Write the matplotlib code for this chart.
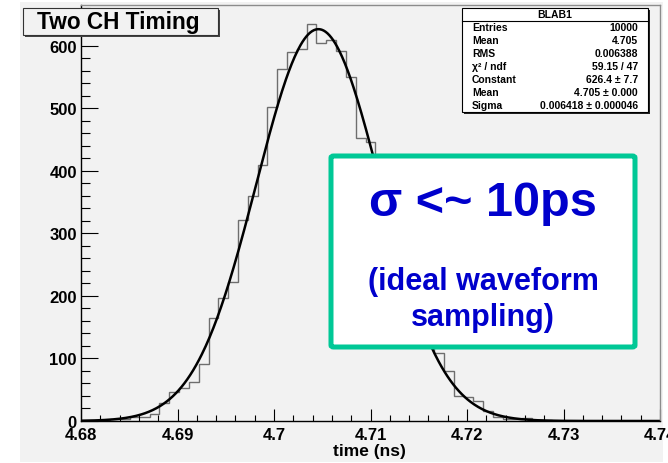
import numpy as np
import matplotlib
matplotlib.use("Agg")
import matplotlib.pyplot as plt
from matplotlib.patches import Rectangle, FancyBboxPatch
from matplotlib.lines import Line2D

plt.rcParams['font.family'] = ['Liberation Sans', 'DejaVu Sans']
plt.rcParams['font.weight'] = 'bold'

# histogram: 60 bins from 4.68 ns
hist_lo = 4.68
hist_hi = 4.741
counts = [1, 1, 2, 3, 3, 6, 7, 11,
          29, 46, 53, 63, 91, 165, 196, 222,
          322, 360, 409, 502, 562, 590, 595, 634,
          604, 609, 592, 550, 453, 446,
          400, 352, 281, 240, 180, 146,
          109, 80, 40, 39, 32, 16, 7,
          3, 3, 4, 1, 1, 0, 0, 0, 0, 0, 0, 0, 0, 0, 0, 0, 0]

# gaussian fit result (stats box shows the rounded values)
fit_const = 626.4
fit_mean = 4.7046
fit_sigma = 0.006418

stat_labels = ['Entries', 'Mean', 'RMS', 'χ² / ndf', 'Constant', 'Mean', 'Sigma']
stat_values = ['10000', '4.705', '0.006388', '59.15 / 47',
               '626.4 ± 7.7', '4.705 ± 0.000', '0.006418 ± 0.000046']

x_ticks = [4.68, 4.69, 4.70, 4.71, 4.72, 4.73, 4.74]
x_tick_labels = ['4.68', '4.69', '4.7', '4.71', '4.72', '4.73', '4.74']
y_ticks = [0, 100, 200, 300, 400, 500, 600]

W, H = 668, 464
BG = '#f2f2f2'


def fx(x):
    return x / W


def fy(y):
    return 1 - y / H


fig = plt.figure(figsize=(W / 100, H / 100), dpi=100)
fig.patch.set_facecolor('white')

# grey ROOT canvas
fig.add_artist(Rectangle((fx(20), fy(463)), fx(663 - 20), (463 - 3) / H,
                         transform=fig.transFigure, facecolor=BG,
                         edgecolor='none', zorder=-1))

ax = fig.add_axes([fx(81), fy(422), fx(660 - 81), (422 - 6) / H])
ax.set_facecolor(BG)

edges = np.linspace(hist_lo, hist_hi, len(counts) + 1)
ax.stairs(counts, edges, color='#6e6e6e', linewidth=1.0, baseline=0)

xs = np.linspace(4.68, 4.74, 600)
ax.plot(xs, fit_const * np.exp(-0.5 * ((xs - fit_mean) / fit_sigma) ** 2),
        color='black', linewidth=1.8)

ax.set_xlim(4.68, 4.74)
ax.set_ylim(0, 665)
ax.set_xticks(x_ticks)
ax.set_xticklabels(x_tick_labels)
ax.set_yticks(y_ticks)
ax.set_xticks(np.arange(4.68, 4.7401, 0.002), minor=True)
ax.set_yticks(np.arange(0, 661, 20), minor=True)
ax.tick_params(axis='y', which='major', direction='in', length=12.2, width=0.8,
               pad=3, labelsize=12)
ax.tick_params(axis='y', which='minor', direction='in', length=6.5, width=0.8)
ax.tick_params(axis='x', which='major', direction='in', length=8.6, width=0.8,
               pad=4, labelsize=12)
ax.tick_params(axis='x', which='minor', direction='in', length=4.3, width=0.8)
for lab in ax.get_xticklabels() + ax.get_yticklabels():
    lab.set_fontweight('bold')

for side in ['left', 'bottom']:
    ax.spines[side].set_color('black')
    ax.spines[side].set_linewidth(1.0)
for side in ['top', 'right']:
    ax.spines[side].set_color('#8c8c8c')
    ax.spines[side].set_linewidth(1.0)

fig.text(fx(333), fy(452), 'time (ns)', fontsize=12.5, fontweight='bold',
         ha='left', va='center')

# title box
fig.add_artist(Rectangle((fx(25), fy(38)), fx(218 - 23), (36 - 9) / H,
                         transform=fig.transFigure, facecolor='#444444',
                         edgecolor='none', zorder=5))
fig.add_artist(Rectangle((fx(23), fy(36)), fx(218 - 23), (36 - 9) / H,
                         transform=fig.transFigure, facecolor=BG,
                         edgecolor='#333333', linewidth=0.8, zorder=6))
fig.text(fx(118), fy(22.5), 'Two CH Timing', fontsize=16.3, fontweight='bold',
         ha='center', va='center', zorder=7)

# stats box
fig.add_artist(Rectangle((fx(464), fy(115)), fx(648 - 462), (113 - 9) / H,
                         transform=fig.transFigure, facecolor='#222222',
                         edgecolor='none', zorder=5))
fig.add_artist(Rectangle((fx(462), fy(113)), fx(648 - 462), (113 - 9) / H,
                         transform=fig.transFigure, facecolor='white',
                         edgecolor='black', linewidth=0.8, zorder=6))
fig.add_artist(Line2D([fx(462), fx(648)], [fy(22), fy(22)],
                      transform=fig.transFigure, color='black',
                      linewidth=0.8, zorder=7))
fig.text(fx(555), fy(15), 'BLAB1', fontsize=7.5, fontweight='bold',
         ha='center', va='center', zorder=7)
for i, (lab, val) in enumerate(zip(stat_labels, stat_values)):
    yy = 28 + 13 * i
    fig.text(fx(472), fy(yy), lab, fontsize=7.5, fontweight='bold',
             ha='left', va='center', zorder=7)
    fig.text(fx(638), fy(yy), val, fontsize=7.5, fontweight='bold',
             ha='right', va='center', zorder=7)

# green annotation box
fig.add_artist(FancyBboxPatch((fx(331), fy(348)), fx(635 - 331), (348 - 157) / H,
                              boxstyle='round,pad=0,rounding_size=0.004',
                              transform=fig.transFigure, facecolor='white',
                              edgecolor='#00c896', linewidth=3.6, zorder=8))
fig.text(fx(483), fy(203), 'σ <~ 10ps', fontsize=35, fontweight='bold',
         color='#0000cc', ha='center', va='center', zorder=9)
fig.text(fx(483), fy(282), '(ideal waveform', fontsize=22, fontweight='bold',
         color='#0000cc', ha='center', va='center', zorder=9)
fig.text(fx(483), fy(318), 'sampling)', fontsize=22, fontweight='bold',
         color='#0000cc', ha='center', va='center', zorder=9)

fig.savefig('out.png', dpi=100, facecolor='white')
